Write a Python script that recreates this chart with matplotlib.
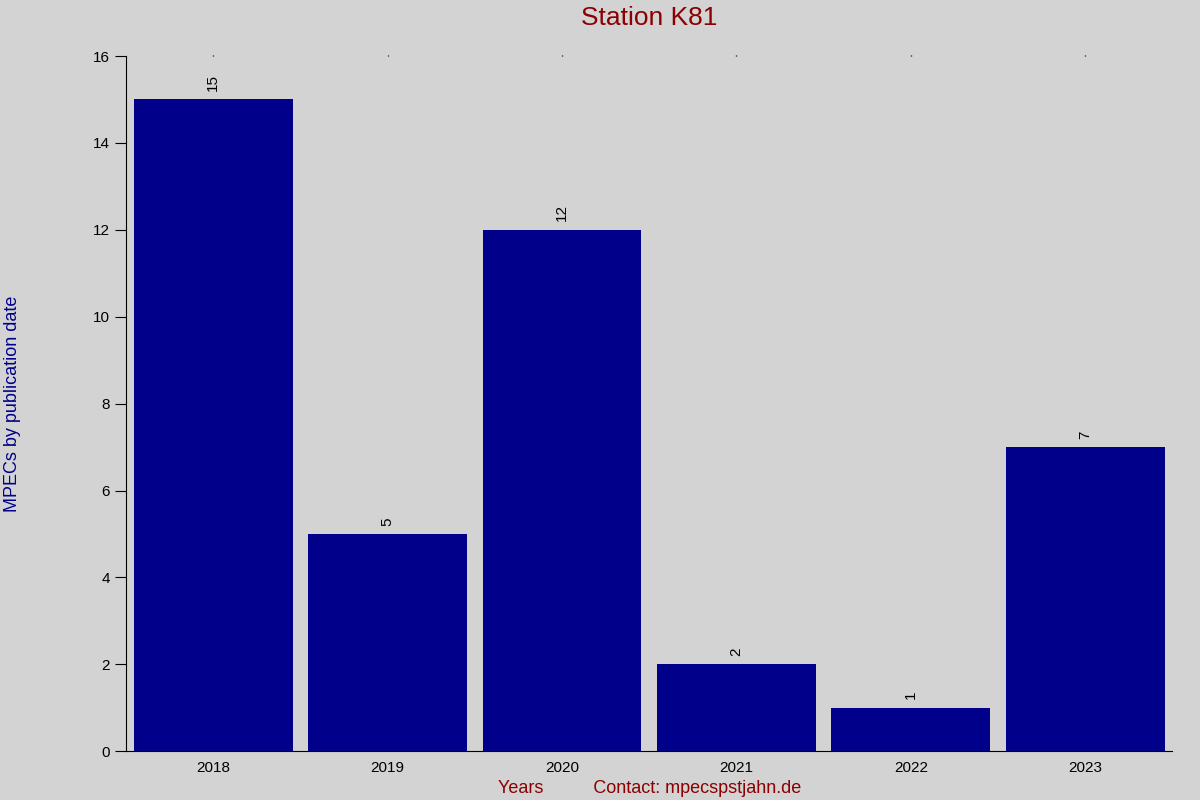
import matplotlib
matplotlib.use("Agg")
import matplotlib.pyplot as plt

years = ["2018", "2019", "2020", "2021", "2022", "2023"]
mpecs = [15, 5, 12, 2, 1, 7]

plt.rcParams['font.family'] = ['Liberation Sans', 'DejaVu Sans']

fig = plt.figure(figsize=(12, 8), dpi=100, facecolor="#d3d3d3")
ax = fig.add_axes([0.105, 0.061, 0.872, 0.869])
ax.set_facecolor("#d3d3d3")

pos = range(len(years))
bars = ax.bar(pos, mpecs, width=0.91, color="#00008b")
for x, v in zip(pos, mpecs):
    ax.annotate(str(v), (x, v), xytext=(0, 6), textcoords="offset points",
                rotation=90, ha="center", va="bottom", fontsize=11)

ax.set_xlim(-0.5, 5.5)
ax.set_ylim(0, 16)
ax.set_xticks(list(pos))
ax.set_xticklabels(years, fontsize=11)
ax.set_yticks(range(0, 17, 2))
ax.tick_params(axis="y", labelsize=11, length=8, direction="out")
ax.tick_params(axis="x", bottom=False, top=True, length=1, width=1, pad=6)

for s in ["top", "right"]:
    ax.spines[s].set_visible(False)

# title placed by hand, the axes title gets pushed down by the top ticks
fig.text(0.541, 0.978, "Station K81", color="#8b0000", fontsize=19, ha="center", va="center")
ax.set_ylabel("MPECs by publication date", color="#00008b", fontsize=13, labelpad=52)
ax.set_xlabel("Years          Contact: mpecspstjahn.de", color="#8b0000", fontsize=13, labelpad=4)

plt.savefig("out.png", dpi=100, facecolor=fig.get_facecolor())
